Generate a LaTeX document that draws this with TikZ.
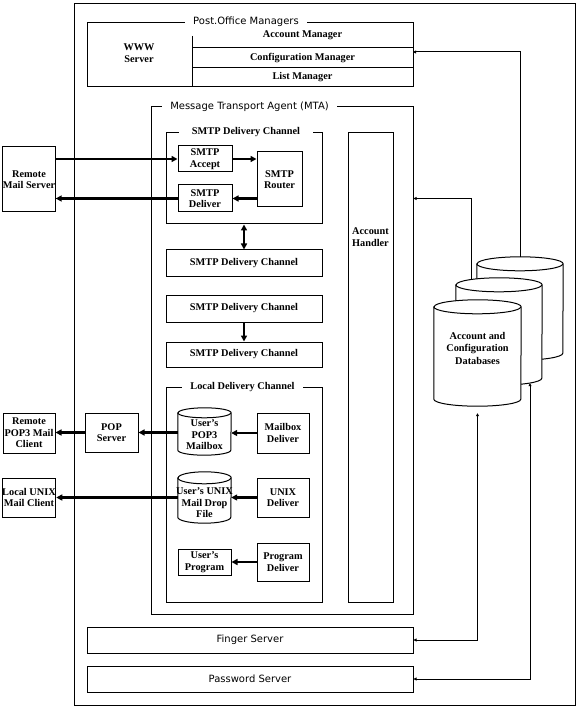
\documentclass[tikz,border=0pt]{standalone}
\usepackage{fontspec}
\setmainfont{Liberation Serif}
\newfontfamily\winsans{DejaVu Sans}
\usetikzlibrary{arrows.meta, calc}

\tikzset{
  box/.style={draw, line width=1pt, inner sep=0pt},
  blk/.style={box, align=center, font=\bfseries\fontsize{10.3}{11.5}\selectfont},
  txt/.style={align=center, inner sep=0pt, font=\bfseries\fontsize{10.3}{11.5}\selectfont},
  ttl/.style={fill=white, inner xsep=8pt, inner ysep=1pt, font=\winsans\fontsize{10}{12}\selectfont},
  ctl/.style={fill=white, inner xsep=8pt, inner ysep=1pt, font=\bfseries\fontsize{10.3}{12}\selectfont},
  flow/.style={line width=2.3pt, >={Triangle[length=6pt,width=6pt]}, ->},
  link/.style={line width=1pt, >={Triangle[length=3pt,width=3pt]}, ->},
}

% drum: name, centre x, centre y, width, height, cap radius
\newcommand{\drum}[6]{%
  \node[inner sep=0pt, minimum width=#4, minimum height=#5] (#1) at (#2,#3) {};
  \draw[line width=1pt, fill=white] ($(#1.north west)+(0,#6)$) -- ($(#1.south west)+(0,-#6)$)
    arc[start angle=180, end angle=360, x radius={#4*0.5pt}, y radius={#6*1pt}]
    -- ($(#1.north east)+(0,#6)$)
    arc[start angle=0, end angle=180, x radius={#4*0.5pt}, y radius={#6*1pt}] -- cycle;
  \draw[line width=1pt] ($(#1.north west)+(0,#6)$)
    arc[start angle=180, end angle=360, x radius={#4*0.5pt}, y radius={#6*1pt}];
}

\begin{document}
\begin{tikzpicture}[x=1pt, y=-1pt]
\useasboundingbox (0,0) rectangle (578,708);

\node[box, minimum width=501, minimum height=701] (sys) at (324.5,354.5) {};

% post office managers
\node[box, minimum width=326, minimum height=64] (pom) at (250,55) {};
\node[ttl, anchor=base] (pom-t) at (246,24.5) {Post.Office Managers};
\draw[line width=1pt] (192,36) -- (192,87);
\draw[line width=1pt] (192,48) -- (413,48) (192,68) -- (413,68);
\node[txt] (www) at (139,53) {WWW\\Server};
\node[txt] (acm) at (302.5,35) {Account Manager};
\node[txt] (cfm) at (302.5,58) {Configuration Manager};
\node[txt] (lsm) at (302.5,77) {List Manager};

% message transport agent
\node[box, minimum width=262, minimum height=507] (mta) at (282,360.5) {};
\node[ttl, anchor=base] (mta-t) at (249.5,110) {Message Transport Agent (MTA)};

\node[box, minimum width=156, minimum height=91] (sdc) at (244,178.5) {};
\node[ctl, anchor=base, inner xsep=13pt] (sdc-t) at (246,135) {SMTP Delivery Channel};
\node[blk, minimum width=54, minimum height=26] (acc) at (205,159) {SMTP\\Accept};
\node[blk, minimum width=54, minimum height=27] (dlv) at (205,198.5) {SMTP\\Deliver};
\node[blk, minimum width=45, minimum height=55] (rtr) at (279.5,179.5) {SMTP\\Router};
\node[blk, minimum width=52, minimum height=65] (rms) at (29,179.5) {Remote\\Mail Server};

\node[blk, minimum width=156, minimum height=26] (ch2) at (244,263) {SMTP Delivery Channel};
\node[blk, minimum width=156, minimum height=27] (ch3) at (244,308.5) {SMTP Delivery Channel};
\node[blk, minimum width=156, minimum height=25] (ch4) at (244,354.5) {SMTP Delivery Channel};

\node[box, minimum width=156, minimum height=215] (ldc) at (244,494.5) {};
\node[ctl, anchor=base] (ldc-t) at (242.5,389) {Local Delivery Channel};
\drum{mbx}{204.5}{431.5}{53}{47}{5}
\node[txt] (mbx-t) at (204.5,435) {User's\\POP3\\Mailbox};
\node[blk, minimum width=52, minimum height=40] (mdl) at (283,433) {Mailbox\\Deliver};
\node[blk, minimum width=53, minimum height=39] (pop) at (111.5,432.5) {POP\\Server};
\node[blk, minimum width=52, minimum height=40] (rpc) at (29,433) {Remote\\POP3 Mail\\Client};
\drum{ucy}{204.5}{497.5}{53}{51}{6}
\node[txt] (ucy-t) at (204.5,503) {User's UNIX\\Mail Drop\\File};
\node[blk, minimum width=52, minimum height=39] (udl) at (283,497.5) {UNIX\\Deliver};
\node[blk, minimum width=52, minimum height=39] (luc) at (29,497.5) {Local UNIX\\Mail Client};
\node[blk, minimum width=53, minimum height=26] (prg) at (204.5,562) {User's\\Program};
\node[blk, minimum width=52, minimum height=38] (pdl) at (283,562) {Program\\Deliver};

\node[box, minimum width=45, minimum height=469] (ahd) at (370.5,367.5) {};
\node[txt] (ahd-t) at (370.5,237) {Account\\Handler};

% databases
\drum{dbb}{520}{308.5}{86}{103}{7}
\drum{dbm}{499}{331.5}{86}{107}{7}
\drum{dbf}{477.5}{353}{87}{106}{7}
\node[txt, font=\bfseries\fontsize{10.3}{12.5}\selectfont] (dbf-t) at (477.5,348) {Account and\\Configuration\\Databases};

\node[box, font=\winsans\fontsize{10}{12}\selectfont, minimum width=326, minimum height=26] (fng) at (250,640) {Finger Server};
\node[box, font=\winsans\fontsize{10}{12}\selectfont, minimum width=326, minimum height=26] (pwd) at (250,679) {Password Server};

% mail flow
\draw[flow] (acc.west -| rms.east) -- (acc.west);
\draw[flow] (acc.east) -- (acc.east -| rtr.west);
\draw[flow] (dlv.east -| rtr.west) -- (dlv.east);
\draw[flow] (dlv.west) -- (dlv.west -| rms.east);
\draw[flow, <->] (sdc.south) -- (ch2.north);
\draw[flow] (ch3.south) -- (ch4.north);
\draw[flow] (mdl.west) -- (mdl.west -| mbx.east);
\draw[flow] (pop.east -| mbx.west) -- (pop.east);
\draw[flow] (pop.west) -- (pop.west -| rpc.east);
\draw[flow] (udl.west) -- (udl.west -| ucy.east);
\draw[flow] (udl.west -| ucy.west) -- (udl.west -| luc.east);
\draw[flow] (pdl.west) -- (pdl.west -| prg.east);

% database links
\coordinate (pom-in) at (413,52);
\coordinate (dbm-top) at ($(dbm.north)+(-28,2)$);
\coordinate (dbm-bot) at ($(dbm.south)+(31,-2)$);
\coordinate (dbf-bot) at ($(dbf.south)+(0,7)$);
\draw[link] (dbb.north) |- (pom-in);
\draw[link] (dbm-top) |- (dlv -| mta.east);
\draw[link, <->] (fng.east) -| (dbf-bot);
\draw[link, <->] (pwd.east) -| (dbm-bot);
\end{tikzpicture}
\end{document}
